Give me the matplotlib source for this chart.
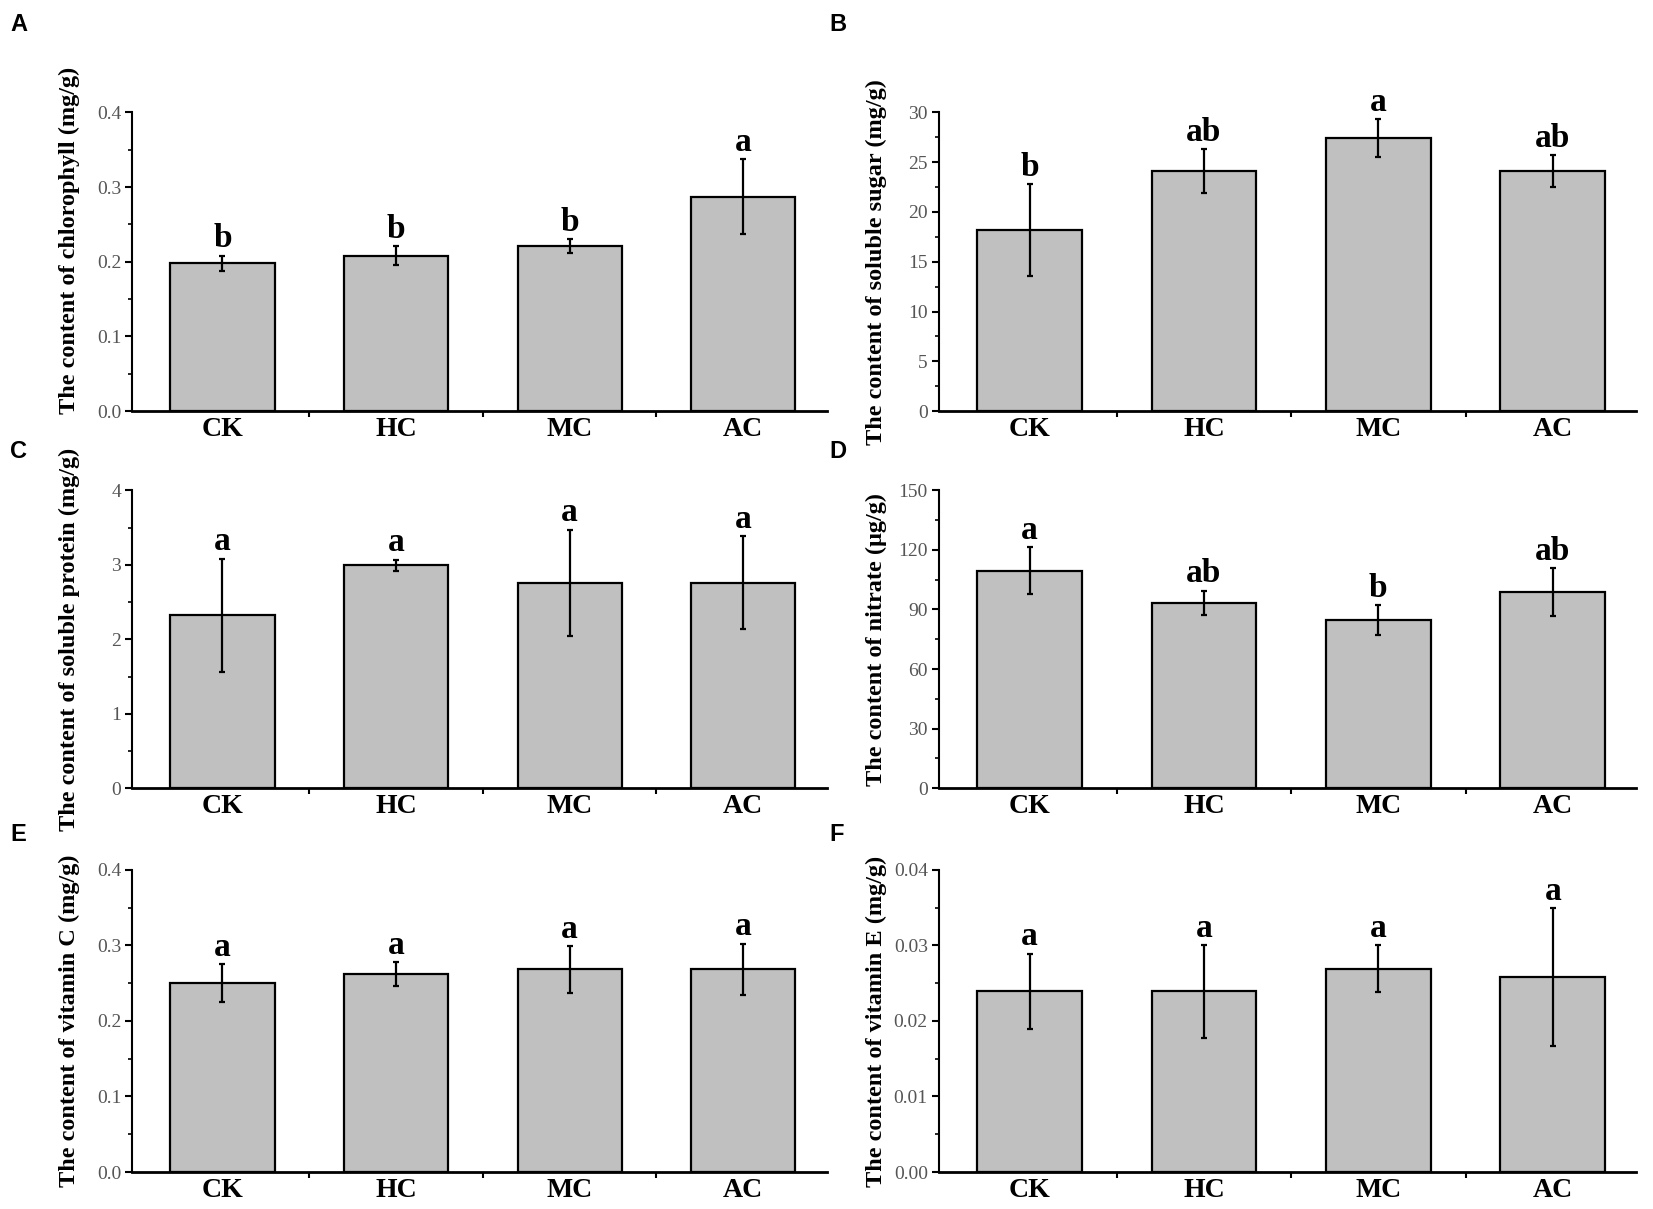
import numpy as np
import matplotlib.pyplot as plt
from matplotlib.ticker import MultipleLocator, FormatStrFormatter

groups = ['CK', 'HC', 'MC', 'AC']

chl = [0.198, 0.208, 0.221, 0.287]
chl_err = [0.010, 0.013, 0.009, 0.050]
chl_sig = ['b', 'b', 'b', 'a']

sugar = [18.2, 24.1, 27.4, 24.1]
sugar_err = [4.6, 2.2, 1.9, 1.6]
sugar_sig = ['b', 'ab', 'a', 'ab']

protein = [2.32, 2.99, 2.76, 2.76]
protein_err = [0.76, 0.08, 0.71, 0.62]
protein_sig = ['a', 'a', 'a', 'a']

nitrate = [109.4, 93.4, 84.6, 98.9]
nitrate_err = [11.8, 6.1, 7.5, 12.0]
nitrate_sig = ['a', 'ab', 'b', 'ab']

vitc = [0.250, 0.262, 0.268, 0.268]
vitc_err = [0.025, 0.016, 0.031, 0.034]
vitc_sig = ['a', 'a', 'a', 'a']

vite = [0.0239, 0.0239, 0.0269, 0.0258]
vite_err = [0.0050, 0.0061, 0.0031, 0.0091]
vite_sig = ['a', 'a', 'a', 'a']

serif = 'Liberation Serif'

# panel: letter, values, errors, sig letters, ylabel, ymax, step, fmt, label y, axes rect, letter pos
panels = [
    ('A', chl, chl_err, chl_sig, 'The content of chlorophyll (mg/g)', 0.4, 0.1, '%.1f', 0.57,
     [0.080, 0.660, 0.420, 0.247], (0.006, 0.989)),
    ('B', sugar, sugar_err, sugar_sig, 'The content of soluble sugar (mg/g)', 30, 5, '%d', 0.5,
     [0.568, 0.660, 0.422, 0.247], (0.502, 0.989)),
    ('C', protein, protein_err, protein_sig, 'The content of soluble protein (mg/g)', 4, 1, '%d', 0.5,
     [0.080, 0.348, 0.420, 0.2465], (0.006, 0.636)),
    ('D', nitrate, nitrate_err, nitrate_sig, 'The content of nitrate (μg/g)', 150, 30, '%d', 0.5,
     [0.568, 0.348, 0.422, 0.2465], (0.502, 0.636)),
    ('E', vitc, vitc_err, vitc_sig, 'The content of vitamin C (mg/g)', 0.4, 0.1, '%.1f', 0.5,
     [0.080, 0.0306, 0.420, 0.250], (0.006, 0.319)),
    ('F', vite, vite_err, vite_sig, 'The content of vitamin E (mg/g)', 0.04, 0.01, '%.2f', 0.5,
     [0.568, 0.0306, 0.422, 0.250], (0.502, 0.319)),
]

fig = plt.figure(figsize=(16.53, 12.09), dpi=100)
x = np.arange(len(groups))

for tag, vals, errs, sig, ylab, ymax, step, fmt, ly, rect, tpos in panels:
    ax = fig.add_axes(rect)
    ax.bar(x, vals, width=0.6, color='#c0c0c0', edgecolor='black', linewidth=1.6, zorder=2)
    ax.errorbar(x, vals, yerr=errs, fmt='none', ecolor='black', elinewidth=1.6,
                capsize=2.5, capthick=1.6, zorder=3)
    for xi, v, e, s in zip(x, vals, errs, sig):
        ax.annotate(s, (xi, v + e), xytext=(0, 6), textcoords='offset points',
                    ha='center', va='baseline', fontsize=24, fontfamily=serif,
                    fontweight='bold')

    ax.set_xlim(-0.52, 3.48)
    ax.set_ylim(0, ymax)
    ax.spines['top'].set_visible(False)
    ax.spines['right'].set_visible(False)
    ax.spines['left'].set_linewidth(1.5)
    ax.spines['bottom'].set_linewidth(2)

    ax.set_xticks(x)
    ax.set_xticklabels(groups, fontsize=20, fontfamily=serif, fontweight='bold')
    ax.set_xticks([0.5, 1.5, 2.5], minor=True)
    ax.tick_params(axis='x', which='major', length=0, pad=4)
    ax.tick_params(axis='x', which='minor', length=4, width=1.5, direction='out')

    ax.yaxis.set_major_locator(MultipleLocator(step))
    ax.yaxis.set_minor_locator(MultipleLocator(step / 2))
    ax.yaxis.set_major_formatter(FormatStrFormatter(fmt))
    ax.tick_params(axis='y', which='major', length=5, width=1.5, labelsize=14,
                   labelcolor='#555555', pad=3)
    ax.tick_params(axis='y', which='minor', length=3, width=1.2)
    for lbl in ax.get_yticklabels():
        lbl.set_fontfamily(serif)

    ax.set_ylabel(ylab, fontsize=17.5, fontfamily=serif, fontweight='bold')
    ax.yaxis.set_label_coords(-0.075, ly)

    # panel letter
    fig.text(tpos[0], tpos[1], tag, fontsize=17, fontweight='bold',
             fontfamily='Liberation Sans', va='top', ha='left')

plt.savefig('out.png', dpi=100)
